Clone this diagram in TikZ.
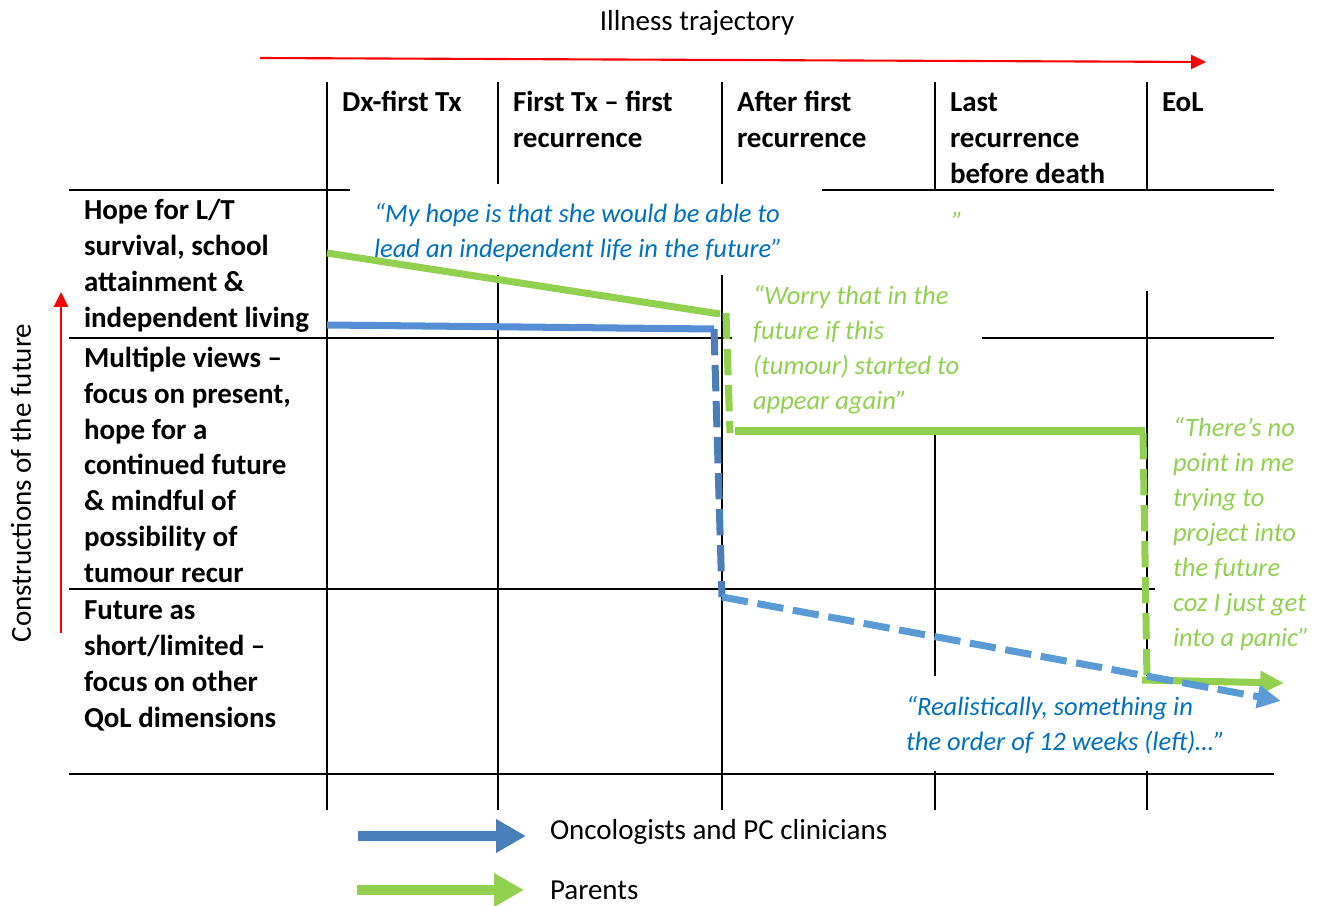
\documentclass[tikz,border=0pt]{standalone}
\usepackage{fontspec}
\setmainfont{Carlito}
\usetikzlibrary{arrows.meta}

\definecolor{parentgreen}{HTML}{92D050}
\definecolor{clinblue}{HTML}{5B9BD5}
\definecolor{clinmid}{HTML}{558ED5}
\definecolor{clindark}{HTML}{4A7EBB}
\definecolor{quoteblue}{HTML}{0070C0}

\newcommand\labelsize{\fontsize{16.5pt}{20.4pt}\selectfont}
\newcommand\quotesize{\fontsize{15.1pt}{19.84pt}\selectfont}

\tikzset{
  hdr/.style={anchor=north west, align=left, font=\labelsize\bfseries},
  plain/.style={anchor=base west, font=\labelsize},
  quote/.style={anchor=north west, align=left, font=\quotesize\itshape},
  gridline/.style={line width=1.13pt, black},
  trend/.style={line width=4pt, line cap=butt},
  dashtrend/.style={trend, dash pattern=on 15pt off 5.5pt},
  trendtip/.style={-{Triangle[length=13.5pt, width=12.5pt]}},
  legendarrow/.style={line width=6.2pt, -{Triangle[length=17pt, width=18pt]}},
  redaxis/.style={red, line width=1.2pt, -{Triangle[length=8.5pt, width=8pt]}}
}

\begin{document}
\begin{tikzpicture}[x=0.02cm, y=-0.02cm, every node/.style={inner sep=0pt, outer sep=0pt}]
\useasboundingbox (0,0) rectangle (1320,906);

% ---- table rules ----
\draw[gridline] (327,82) -- (327,810);
\draw[gridline] (498,82) -- (498,184) (498,275) -- (498,810);
\draw[gridline] (722,82) -- (722,184) (722,275) -- (722,810);
\draw[gridline] (935,82) -- (935,190) (935,435) -- (935,676) (935,771) -- (935,810);
\draw[gridline] (1147,82) -- (1147,190) (1147,291) -- (1147,676) (1147,771) -- (1147,810);
\draw[gridline] (69,190) -- (350,190) (822,190) -- (1274,190);
\draw[gridline] (69,338) -- (732,338) (982,338) -- (1274,338);
\draw[gridline] (69,589) -- (1155,589);
\draw[gridline] (69,774) -- (1274,774);

% ---- axes ----
\node[anchor=base, font=\labelsize] (title) at (697,31) {Illness trajectory};
\coordinate (tstart) at (260,58);
\coordinate (tend) at (1206,62);
\draw[redaxis] (tstart) -- (tend);

\node[anchor=base, rotate=90, font=\labelsize] (yaxis) at (31,483) {Constructions of the future};
\coordinate (ystart) at (61,633);
\coordinate (yend) at (61,292);
\draw[redaxis, line width=1.4pt] (ystart) -- (yend);

% ---- column headers ----
\node[hdr] (hdx) at (342,86.3) {\strut Dx-first Tx};
\node[hdr] (hft) at (513,86.3) {\strut First Tx – first\\recurrence};
\node[hdr] (haf) at (737,86.3) {\strut After first\\recurrence};
\node[hdr] (hlast) at (950,86.3) {\strut Last\\recurrence\\before death};
\node[hdr] (heol) at (1162,86.3) {\strut EoL};

% ---- row headers ----
\node[hdr] (rhope) at (84,194.8) {\strut Hope for L/T\\survival, school\\attainment \&\\independent living};
\node[hdr] (rmulti) at (84,342.3) {\strut Multiple views –\\focus on present,\\hope for a\\continued future\\\& mindful of\\possibility of\\tumour recur};
\node[hdr] (rshort) at (84,594.5) {\strut Future as\\short/limited –\\focus on other\\QoL dimensions};

% ---- quotations ----
\node[quote, text=quoteblue] (qhope) at (374,198) {\strut “My hope is that she would be able to\\lead an independent life in the future”};
\node[anchor=base west, font=\quotesize\itshape, text=parentgreen] (qmark) at (952,230) {”};
\node[quote, text=parentgreen] (qworry) at (753,280.5) {\strut “Worry that in the\\future if this\\(tumour) started to\\appear again”};
\node[quote, text=parentgreen] (qpanic) at (1173,412.5) {\strut “There’s no\\point in me\\trying to\\project into\\the future\\coz I just get\\into a panic”};
\node[quote, text=quoteblue] (qweeks) at (906,691.5) {\strut “Realistically, something in\\the order of 12 weeks (left)…”};

% ---- parents' trajectory ----
\coordinate (g0) at (327,253);
\coordinate (g1) at (720,314);
\coordinate (g2) at (726,313);
\coordinate (g3) at (730,433);
\coordinate (g4) at (735,431);
\coordinate (g5) at (1145,431);
\coordinate (g6) at (1143,433);
\coordinate (g7) at (1147,679);
\coordinate (g8) at (1142,680);
\coordinate (g9) at (1284,683);
\draw[trend, parentgreen] (g0) -- (g1);
\draw[dashtrend, parentgreen] (g2) -- (g3);
\draw[trend, parentgreen] (g4) -- (g5);
\draw[dashtrend, parentgreen] (g6) -- (g7);
\draw[trend, parentgreen, trendtip] (g8) -- (g9);

% ---- clinicians' trajectory ----
\coordinate (b0) at (327,325);
\coordinate (b1) at (714,329);
\coordinate (b2) at (714,329);
\coordinate (b3) at (722,597);
\coordinate (b4) at (1281,701);
\draw[trend, clinmid] (b0) -- (b1);
\draw[dashtrend, clindark] (b2) -- (b3);
\draw[dashtrend, clinblue, trendtip] (b3) -- (b4);

% ---- legend ----
\coordinate (lb0) at (358,836);
\coordinate (lb1) at (526,836);
\coordinate (lg0) at (357,890);
\coordinate (lg1) at (524,890);
\draw[legendarrow, clindark] (lb0) -- (lb1);
\draw[legendarrow, parentgreen] (lg0) -- (lg1);
\node[plain] (lclin) at (550,839) {Oncologists and PC clinicians};
\node[plain] (lpar) at (550,899) {Parents};
\end{tikzpicture}
\end{document}
